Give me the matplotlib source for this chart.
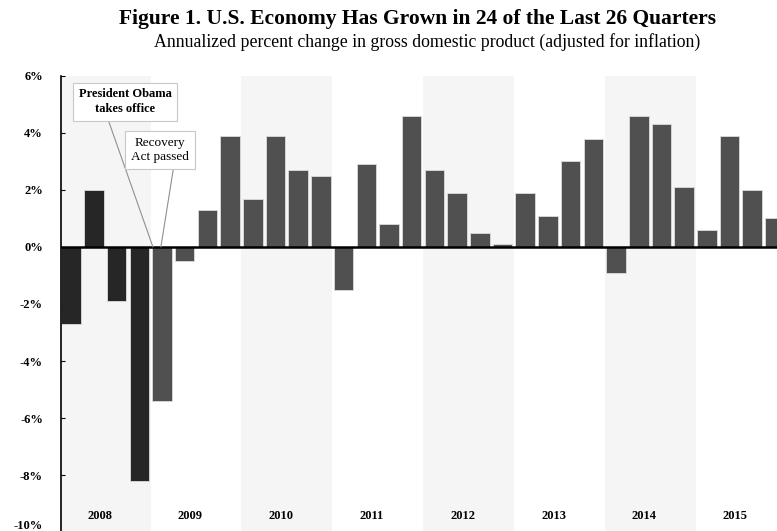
import matplotlib.pyplot as plt
import numpy as np

# quarterly real GDP growth, annualized %, 2008Q1 - 2015Q4
years = ["2008", "2009", "2010", "2011", "2012", "2013", "2014", "2015"]
gdp_growth = [
    -2.7, 2.0, -1.9, -8.2,   # 2008
    -5.4, -0.5, 1.3, 3.9,    # 2009
    1.7, 3.9, 2.7, 2.5,      # 2010
    -1.5, 2.9, 0.8, 4.6,     # 2011
    2.7, 1.9, 0.5, 0.1,      # 2012
    1.9, 1.1, 3.0, 3.8,      # 2013
    -0.9, 4.6, 4.3, 2.1,     # 2014
    0.6, 3.9, 2.0, 1.0,      # 2015
]
y_ticks = [-10, -8, -6, -4, -2, 0, 2, 4, 6]
first_obama_quarter = 4

plt.rcParams['font.family'] = ['Liberation Serif', 'DejaVu Serif']

fig = plt.figure(figsize=(7.77, 5.31), dpi=100)
ax = fig.add_axes([0.0785, -0.002, 0.9215, 0.859])

x = np.arange(len(gdp_growth))
colors = ['#262626' if i < first_obama_quarter else '#505050' for i in x]

# faint shading for alternate years
for k in range(0, len(years), 2):
    ax.axvspan(4 * k - 0.5, 4 * k + 3.5, color='#f5f5f5', lw=0, zorder=0)

ax.bar(x, gdp_growth, width=0.86, color=colors, edgecolor='#dcdcdc',
       linewidth=0.6, zorder=2)
ax.axhline(0, color='black', lw=1.8, zorder=3)

ax.set_xlim(-0.45, 31.09)
ax.set_ylim(-10, 6)
ax.set_xticks([])
ax.set_yticks(y_ticks)
ax.set_yticklabels([f"{t}%" for t in y_ticks], fontsize=9, fontweight='bold')
ax.get_yticklabels()[0].set_va('bottom')
ax.tick_params(axis='y', direction='in', length=3, width=0.8, pad=13)
for s in ['top', 'right', 'bottom']:
    ax.spines[s].set_visible(False)
ax.spines['left'].set_linewidth(1.2)

for k, yr in enumerate(years):
    ax.text(4 * k + 1.25, -9.45, yr, ha='center', va='center',
            fontsize=9, fontweight='bold')

box = dict(boxstyle='square,pad=0.45', fc='white', ec='#c8c8c8', lw=0.8)
ax.annotate("President Obama\ntakes office", xy=(3.6, 0), xytext=(2.37, 5.1),
            ha='center', va='center', fontsize=9, fontweight='bold',
            linespacing=1.3, bbox=box, zorder=5,
            arrowprops=dict(arrowstyle='-', color='#909090', lw=0.8,
                            shrinkA=0, shrinkB=0, relpos=(0.3, 0)))
ax.annotate("Recovery\nAct passed", xy=(3.95, 0), xytext=(3.9, 3.4),
            ha='center', va='center', fontsize=9.5,
            linespacing=1.3, bbox=box, zorder=5,
            arrowprops=dict(arrowstyle='-', color='#909090', lw=0.8,
                            shrinkA=0, shrinkB=0, relpos=(0.75, 0)))

fig.text(0.537, 0.965, "Figure 1. U.S. Economy Has Grown in 24 of the Last 26 Quarters",
         ha='center', va='center', fontsize=15.5, fontweight='bold')
fig.text(0.55, 0.92, "Annualized percent change in gross domestic product (adjusted for inflation)",
         ha='center', va='center', fontsize=12.8)

fig.savefig("out.png", dpi=100)
